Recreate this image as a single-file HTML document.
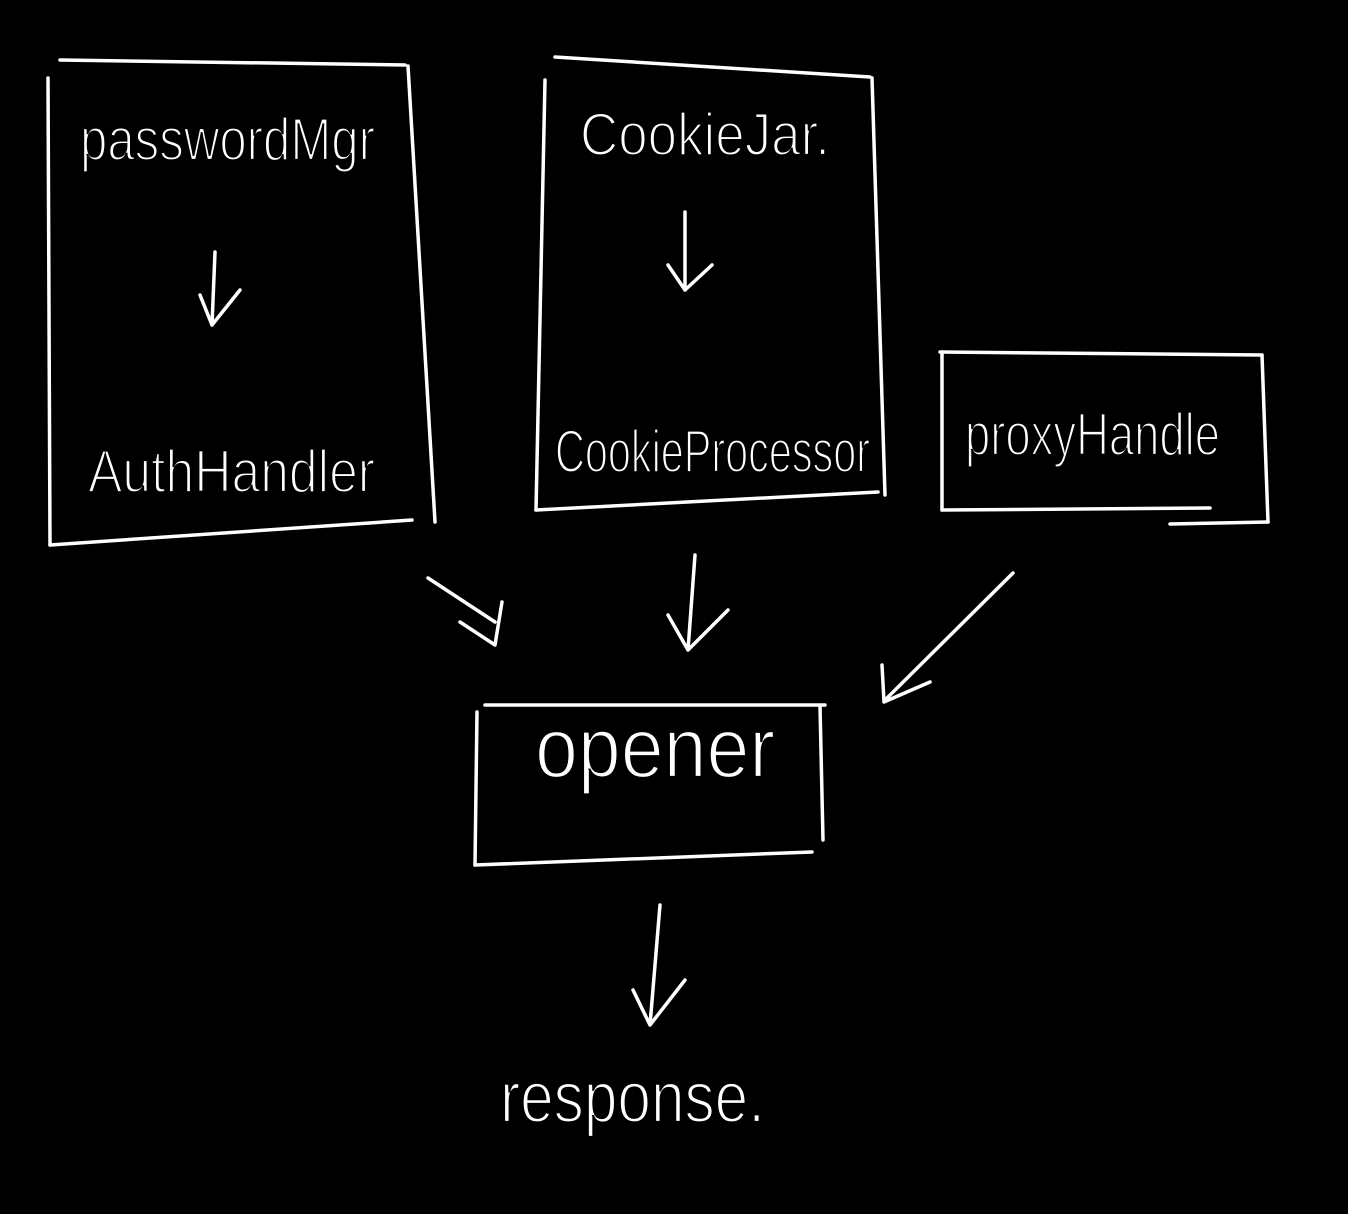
<!DOCTYPE html>
<html><head><meta charset="utf-8"><style>
html,body{margin:0;padding:0;background:#000;width:1348px;height:1214px;overflow:hidden}
svg{display:block}
text{fill:#fff;stroke:#000;stroke-width:2.2px;paint-order:fill;font-family:"Liberation Sans Narrow","Liberation Sans",sans-serif;font-weight:normal}
</style></head><body>
<svg width="1348" height="1214" viewBox="0 0 1348 1214" xmlns="http://www.w3.org/2000/svg">
<rect width="1348" height="1214" fill="#000"/>
<g fill="none" stroke="#fff" stroke-width="3.5" stroke-linecap="round" stroke-linejoin="round">
<path d="M60 60 L405 65"/>
<path d="M48 78 L50 545"/>
<path d="M50 545 L412 520"/>
<path d="M408 66 L435 522"/>
<path d="M555 57 L870 77"/>
<path d="M545 80 L536 510"/>
<path d="M536 510 L878 492"/>
<path d="M872 78 L885 495"/>
<path d="M940 352 L1262 355"/>
<path d="M942 352 L942 510"/>
<path d="M942 510 L1210 508"/>
<path d="M1262 355 L1268 522"/>
<path d="M1170 524 L1268 522"/>
<path d="M485 705 L825 705"/>
<path d="M477 712 L475 865"/>
<path d="M475 865 L812 852"/>
<path d="M820 706 L823 840"/>
<path d="M215 252 L212 325 M200 295 L212 325 L240 290"/>
<path d="M685 212 L685 290 M668 265 L685 290 L712 265"/>
<path d="M428 578 L495 622 M460 622 L495 645 L502 602"/>
<path d="M695 555 L688 650 M668 615 L688 650 L728 610"/>
<path d="M1013 573 L885 700 M882 665 L884 702 L930 682"/>
<path d="M660 905 L650 1025 M633 990 L650 1025 L685 980"/>
</g>
<text x="80" y="160" font-size="60" textLength="295" lengthAdjust="spacingAndGlyphs">passwordMgr</text>
<text x="88" y="492" font-size="60" textLength="287" lengthAdjust="spacingAndGlyphs">AuthHandler</text>
<text x="580" y="155" font-size="60" textLength="250" lengthAdjust="spacingAndGlyphs">CookieJar.</text>
<text x="555" y="472" font-size="60" textLength="315" lengthAdjust="spacingAndGlyphs">CookieProcessor</text>
<text x="965" y="455" font-size="60" textLength="255" lengthAdjust="spacingAndGlyphs">proxyHandle</text>
<text x="535" y="777" font-size="85" textLength="240" lengthAdjust="spacingAndGlyphs">opener</text>
<text x="500" y="1122" font-size="72" textLength="265" lengthAdjust="spacingAndGlyphs">response.</text>
</svg>
</body></html>
